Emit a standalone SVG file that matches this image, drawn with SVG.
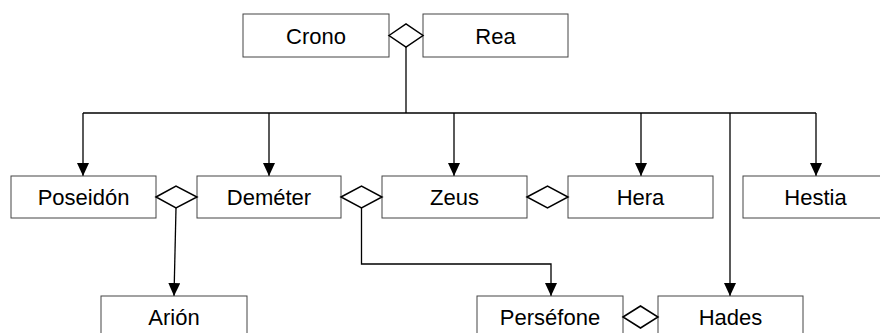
<svg xmlns="http://www.w3.org/2000/svg" width="880" height="333" viewBox="0 0 880 333">
  <style>
    .box rect { fill: #fff; stroke: #444; stroke-width: 1; }
    .box text { font-family: "Liberation Sans", Arial, sans-serif; font-size: 22px; fill: #000; text-anchor: middle; }
    .link { fill: none; stroke: #000; stroke-width: 1.3; }
    .dia { fill: #fff; stroke: #000; stroke-width: 1.5; }
  </style>
  <defs>
    <marker id="arrow" markerUnits="userSpaceOnUse" markerWidth="13" markerHeight="12" refX="13" refY="6" orient="auto">
      <path d="M0,0 L13,6 L0,12 z" fill="#000"/>
    </marker>
  </defs>
  <rect width="880" height="333" fill="#fff"/>

  <!-- connectors -->
  <g id="connectors">
    <path class="link" d="M406,47 V113"/>
    <path class="link" d="M83,113 H816"/>
    <path class="link" d="M83,113 V176" marker-end="url(#arrow)"/>
    <path class="link" d="M269,113 V176" marker-end="url(#arrow)"/>
    <path class="link" d="M454,113 V176" marker-end="url(#arrow)"/>
    <path class="link" d="M641,113 V176" marker-end="url(#arrow)"/>
    <path class="link" d="M816,113 V176" marker-end="url(#arrow)"/>
    <path class="link" d="M730,113 V296" marker-end="url(#arrow)"/>
    <path class="link" d="M176,208 L174,296" marker-end="url(#arrow)"/>
    <path class="link" d="M361.5,208 V264 H551 V296" marker-end="url(#arrow)"/>
  </g>

  <!-- generation 1 -->
  <g id="crono" class="box">
    <rect x="243" y="14" width="146" height="43"/>
    <text x="316" y="43.5">Crono</text>
  </g>
  <g id="rea" class="box">
    <rect x="423" y="14" width="145" height="43"/>
    <text x="495.5" y="43.5">Rea</text>
  </g>

  <!-- generation 2 -->
  <g id="poseidon" class="box">
    <rect x="11" y="176" width="145" height="42"/>
    <text x="83.5" y="205">Poseidón</text>
  </g>
  <g id="demeter" class="box">
    <rect x="197" y="176" width="144" height="42"/>
    <text x="269" y="205">Deméter</text>
  </g>
  <g id="zeus" class="box">
    <rect x="382" y="176" width="145" height="42"/>
    <text x="454.5" y="205">Zeus</text>
  </g>
  <g id="hera" class="box">
    <rect x="568" y="176" width="145" height="42"/>
    <text x="640.5" y="205">Hera</text>
  </g>
  <g id="hestia" class="box">
    <rect x="743" y="176" width="145" height="42"/>
    <text x="815.5" y="205">Hestia</text>
  </g>

  <!-- generation 3 -->
  <g id="arion" class="box">
    <rect x="101" y="296" width="146" height="42"/>
    <text x="174" y="325">Arión</text>
  </g>
  <g id="persefone" class="box">
    <rect x="477" y="296" width="146" height="42"/>
    <text x="550" y="325">Perséfone</text>
  </g>
  <g id="hades" class="box">
    <rect x="658" y="296" width="145" height="42"/>
    <text x="730.5" y="325">Hades</text>
  </g>

  <!-- marriage diamonds -->
  <g id="unions">
    <polygon class="dia" points="389,35.5 406,24 423,35.5 406,47"/>
    <polygon class="dia" points="156,197 176,186 197,197 176,208"/>
    <polygon class="dia" points="341,197 361.5,186 382,197 361.5,208"/>
    <polygon class="dia" points="527,197 547.5,186 568,197 547.5,208"/>
    <polygon class="dia" points="623,317 640.5,306 658,317 640.5,328"/>
  </g>
</svg>
